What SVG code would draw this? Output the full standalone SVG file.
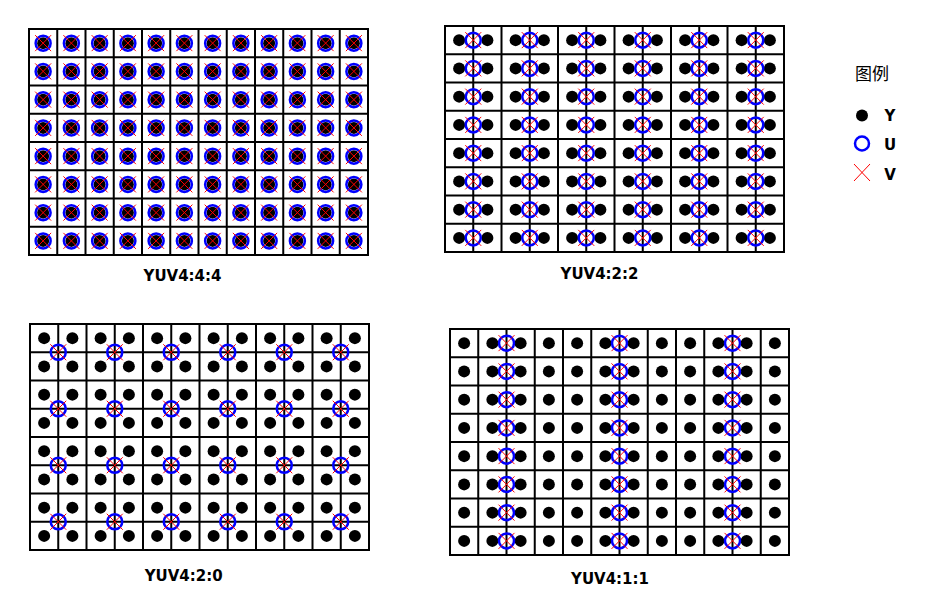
<svg xmlns="http://www.w3.org/2000/svg" xmlns:xlink="http://www.w3.org/1999/xlink" width="943" height="616" viewBox="0 0 943 616">
<style>
.gl{fill:none;stroke:#000;stroke-width:2;stroke-linecap:square}
.u{fill:none;stroke:#00f;stroke-width:2.5}
.v{fill:none;stroke:#f00;stroke-width:1}
.lbl{font-family:"DejaVu Sans","Liberation Sans",sans-serif;font-weight:bold;font-size:15px;fill:#000;text-anchor:middle}
.leg{font-family:"Noto Sans CJK SC",sans-serif;font-size:17px;fill:#000;text-anchor:middle}
</style>
<defs>
<circle id="yd" r="6" fill="#000"/>
<g id="uv"><circle class="u" r="7.5"/><path class="v" d="M-8,-8L8,8M8,-8L-8,8"/></g>
<path id="grid" class="gl" d="M0,0H339V226H0Z M28.25,0V226 M56.5,0V226 M84.75,0V226 M113,0V226 M141.25,0V226 M169.5,0V226 M197.75,0V226 M226,0V226 M254.25,0V226 M282.5,0V226 M310.75,0V226 M0,28.25H339 M0,56.5H339 M0,84.75H339 M0,113H339 M0,141.25H339 M0,169.5H339 M0,197.75H339"/>
<g id="yrow">
<use xlink:href="#yd" x="14.125" y="14.125"/><use xlink:href="#yd" x="42.375" y="14.125"/><use xlink:href="#yd" x="70.625" y="14.125"/><use xlink:href="#yd" x="98.875" y="14.125"/><use xlink:href="#yd" x="127.125" y="14.125"/><use xlink:href="#yd" x="155.375" y="14.125"/><use xlink:href="#yd" x="183.625" y="14.125"/><use xlink:href="#yd" x="211.875" y="14.125"/><use xlink:href="#yd" x="240.125" y="14.125"/><use xlink:href="#yd" x="268.375" y="14.125"/><use xlink:href="#yd" x="296.625" y="14.125"/><use xlink:href="#yd" x="324.875" y="14.125"/>
</g>
<g id="yall">
<use xlink:href="#yrow" y="0"/><use xlink:href="#yrow" y="28.25"/><use xlink:href="#yrow" y="56.5"/><use xlink:href="#yrow" y="84.75"/><use xlink:href="#yrow" y="113"/><use xlink:href="#yrow" y="141.25"/><use xlink:href="#yrow" y="169.5"/><use xlink:href="#yrow" y="197.75"/>
</g>
<g id="uvrow12">
<use xlink:href="#uv" x="14.125" y="14.125"/><use xlink:href="#uv" x="42.375" y="14.125"/><use xlink:href="#uv" x="70.625" y="14.125"/><use xlink:href="#uv" x="98.875" y="14.125"/><use xlink:href="#uv" x="127.125" y="14.125"/><use xlink:href="#uv" x="155.375" y="14.125"/><use xlink:href="#uv" x="183.625" y="14.125"/><use xlink:href="#uv" x="211.875" y="14.125"/><use xlink:href="#uv" x="240.125" y="14.125"/><use xlink:href="#uv" x="268.375" y="14.125"/><use xlink:href="#uv" x="296.625" y="14.125"/><use xlink:href="#uv" x="324.875" y="14.125"/>
</g>
<g id="uvrow6">
<use xlink:href="#uv" x="28.25"/><use xlink:href="#uv" x="84.75"/><use xlink:href="#uv" x="141.25"/><use xlink:href="#uv" x="197.75"/><use xlink:href="#uv" x="254.25"/><use xlink:href="#uv" x="310.75"/>
</g>
<g id="uvrow3">
<use xlink:href="#uv" x="56.5"/><use xlink:href="#uv" x="169.5"/><use xlink:href="#uv" x="282.5"/>
</g>
</defs>

<g id="connectors"/>

<g id="yuv444">
<use xlink:href="#grid" x="29" y="29"/>
<g transform="translate(29,29)">
<use xlink:href="#yall"/>
<use xlink:href="#uvrow12" y="0"/><use xlink:href="#uvrow12" y="28.25"/><use xlink:href="#uvrow12" y="56.5"/><use xlink:href="#uvrow12" y="84.75"/><use xlink:href="#uvrow12" y="113"/><use xlink:href="#uvrow12" y="141.25"/><use xlink:href="#uvrow12" y="169.5"/><use xlink:href="#uvrow12" y="197.75"/>
</g>
<text class="lbl" x="182.5" y="281">YUV4:4:4</text>
</g>

<g id="yuv422">
<use xlink:href="#grid" x="445" y="26"/>
<g transform="translate(445,26)">
<use xlink:href="#yall"/>
<use xlink:href="#uvrow6" y="14.125"/><use xlink:href="#uvrow6" y="42.375"/><use xlink:href="#uvrow6" y="70.625"/><use xlink:href="#uvrow6" y="98.875"/><use xlink:href="#uvrow6" y="127.125"/><use xlink:href="#uvrow6" y="155.375"/><use xlink:href="#uvrow6" y="183.625"/><use xlink:href="#uvrow6" y="211.875"/>
</g>
<text class="lbl" x="599.5" y="279">YUV4:2:2</text>
</g>

<g id="yuv420">
<use xlink:href="#grid" x="30" y="324"/>
<g transform="translate(30,324)">
<use xlink:href="#yall"/>
<use xlink:href="#uvrow6" y="28.25"/><use xlink:href="#uvrow6" y="84.75"/><use xlink:href="#uvrow6" y="141.25"/><use xlink:href="#uvrow6" y="197.75"/>
</g>
<text class="lbl" x="183.7" y="581">YUV4:2:0</text>
</g>

<g id="yuv411">
<use xlink:href="#grid" x="450" y="329"/>
<g transform="translate(450,329)">
<use xlink:href="#yall"/>
<use xlink:href="#uvrow3" y="14.125"/><use xlink:href="#uvrow3" y="42.375"/><use xlink:href="#uvrow3" y="70.625"/><use xlink:href="#uvrow3" y="98.875"/><use xlink:href="#uvrow3" y="127.125"/><use xlink:href="#uvrow3" y="155.375"/><use xlink:href="#uvrow3" y="183.625"/><use xlink:href="#uvrow3" y="211.875"/>
</g>
<text class="lbl" x="610" y="584">YUV4:1:1</text>
</g>

<g id="legend">
<text class="leg" x="872" y="80">图例</text>
<use xlink:href="#yd" x="862" y="115.5"/>
<text class="lbl" x="890" y="121">Y</text>
<circle class="u" cx="862" cy="143.5" r="7"/>
<text class="lbl" x="890" y="150">U</text>
<path class="v" d="M854,164L870,181M870,164L854,181"/>
<text class="lbl" x="890" y="180">V</text>
</g>
</svg>
